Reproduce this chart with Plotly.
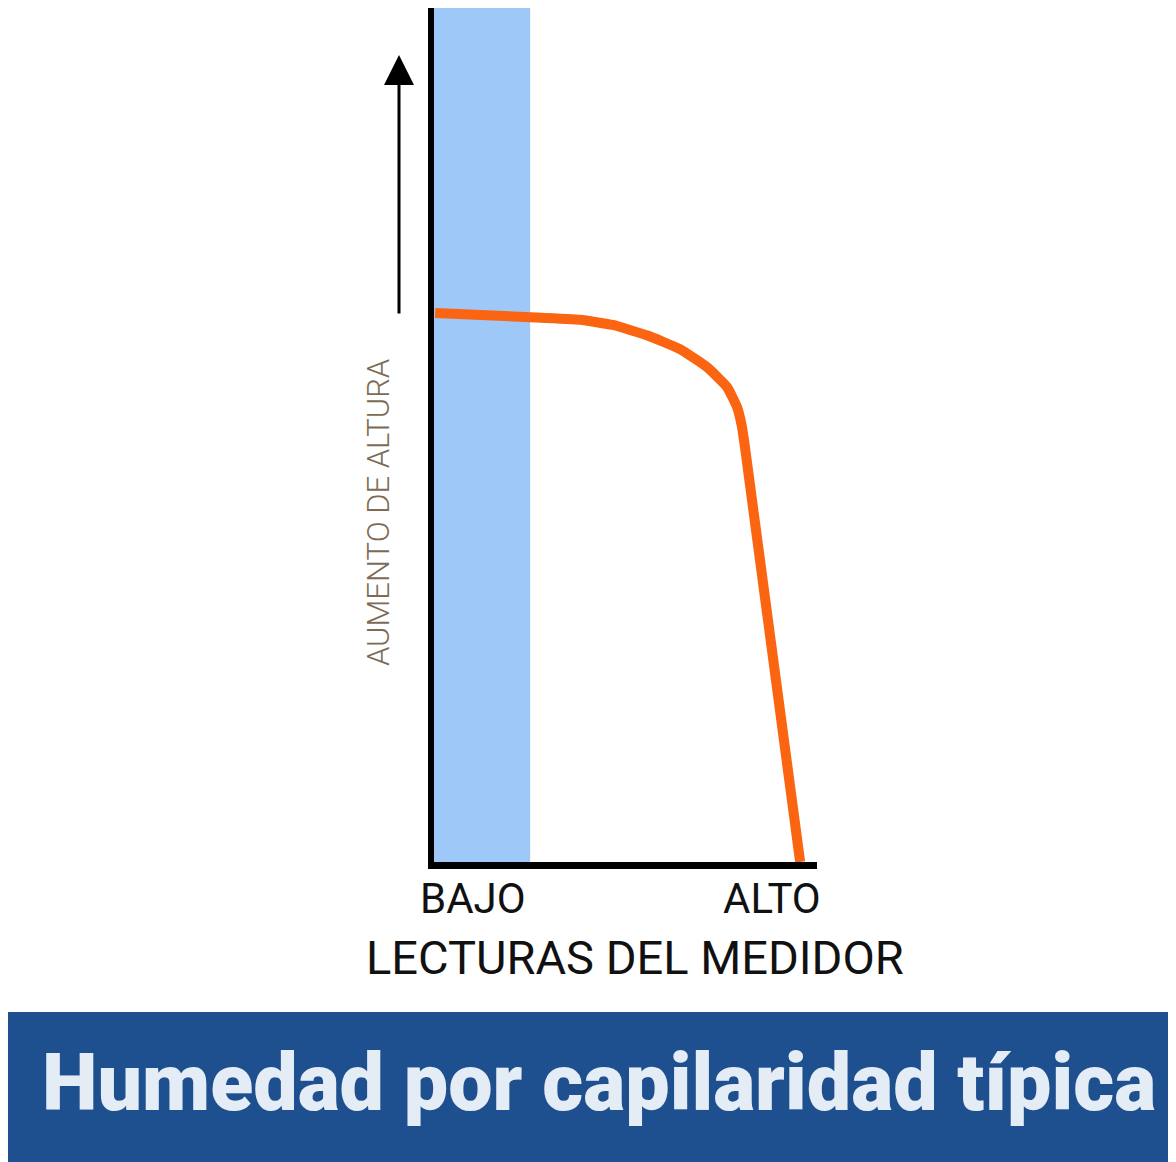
import plotly.graph_objects as go

# lecturas del medidor (0 = bajo, 100 = alto) frente a la altura en el muro (0-100)
lectura = [0.3, 25.1, 38.1, 46.7, 55.6, 64.2, 71.3, 76.5, 79.1, 80.4, 81.2, 95.6]
altura = [63.7, 63.2, 62.9, 62.3, 61.1, 59.5, 57.4, 55.1, 52.8, 50.5, 48.1, 0.0]

banda_bajo = [0, 25.1]
tick_pos = [10.2, 88.3]
tick_txt = ["BAJO", "ALTO"]

W, H = 1176, 1162
OFF = 8  # margen del <body> de la página


def px(x):
    return (x - OFF) / W


def py(y):
    return (H - (y - OFF)) / H


CLR_LINE = "#fb6410"
CLR_BAND = "#9dc8f8"
CLR_BANNER = "#1e4f8f"

fig = go.Figure()

fig.add_shape(type="rect", xref="x", yref="y", x0=banda_bajo[0], x1=banda_bajo[1], y0=0, y1=100,
              fillcolor=CLR_BAND, line=dict(width=0), layer="below")

fig.add_trace(go.Scatter(x=lectura, y=altura, mode="lines",
                         line=dict(color=CLR_LINE, width=10, shape="spline", smoothing=0.4),
                         hoverinfo="skip", showlegend=False))

# flecha "aumento de altura"
fig.add_annotation(x=px(399), y=py(55), xref="paper", yref="paper", axref="pixel", ayref="pixel",
                   ax=0, ay=260, text="", showarrow=True, arrowhead=2, arrowsize=2, arrowwidth=3,
                   arrowcolor="black", standoff=0)
fig.add_annotation(x=px(378), y=py(513), xref="paper", yref="paper", xanchor="center", yanchor="middle",
                   text="AUMENTO DE ALTURA", textangle=-90, showarrow=False,
                   font=dict(family="Roboto", size=31, color="#7d6b55", weight=300))

for pos, txt in zip(tick_pos, tick_txt):
    fig.add_annotation(x=pos, y=py(898), xref="x", yref="paper", xanchor="center", yanchor="middle",
                       text=txt, showarrow=False,
                       font=dict(family="Roboto", size=42, color="#111111"))

fig.add_annotation(x=px(635), y=py(957), xref="paper", yref="paper", xanchor="center", yanchor="middle",
                   text="LECTURAS DEL MEDIDOR", showarrow=False,
                   font=dict(family="Roboto", size=47, color="#111111"))

# franja azul con el título
fig.add_shape(type="rect", xref="paper", yref="paper", x0=0, x1=1, y0=0, y1=py(1012),
              fillcolor=CLR_BANNER, line=dict(width=0), layer="below")
fig.add_annotation(x=px(599), y=py(1083), xref="paper", yref="paper", xanchor="center", yanchor="middle",
                   text="Humedad por capilaridad típica", showarrow=False,
                   font=dict(family="Roboto", size=79, color="#e4edf6", weight=900))

fig.update_xaxes(domain=[px(434), px(817)], range=[0, 100], showgrid=False, zeroline=False,
                 showline=True, linewidth=7, linecolor="black", showticklabels=False, ticks="")
fig.update_yaxes(domain=[py(862), 1], range=[0, (862 - OFF) / 862 * 100], showgrid=False, zeroline=False,
                 showline=True, linewidth=6, linecolor="black", showticklabels=False, ticks="")

fig.update_layout(width=W, height=H, margin=dict(l=0, r=0, t=0, b=0),
                  plot_bgcolor="white", paper_bgcolor="white", showlegend=False)

fig.write_html("out.html")
